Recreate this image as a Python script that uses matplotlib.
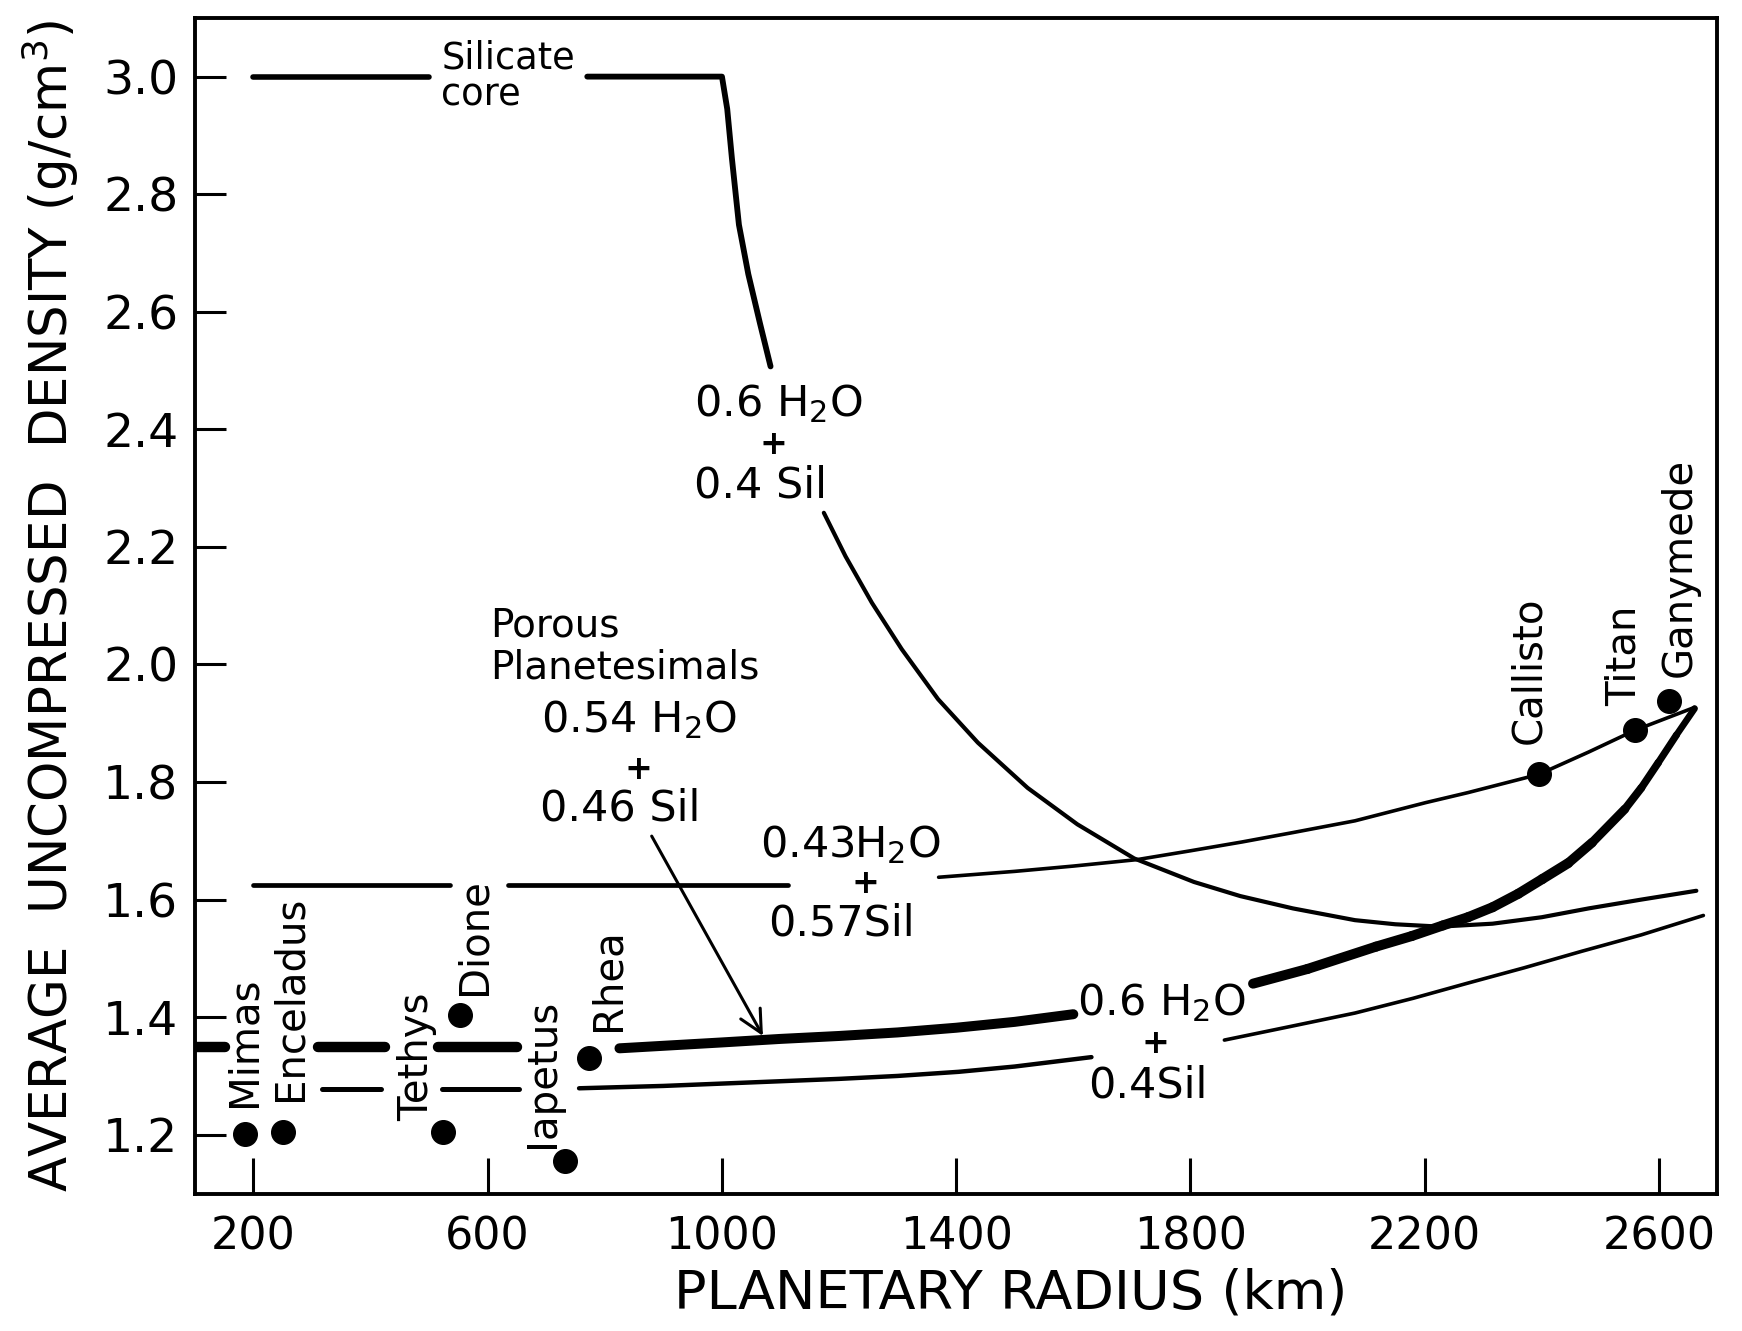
import numpy as np
import matplotlib.pyplot as plt

# silicate core curve (differentiated 0.6 H2O + 0.4 Sil)
core_flat_x = [200, 500]
core_flat_y = [3.0, 3.0]
core_top_x = [770, 1000, 1009, 1017, 1029, 1045, 1065, 1083]
core_top_y = [3.0, 3.0, 2.945, 2.861, 2.748, 2.664, 2.580, 2.507]
core_low_x = [1174, 1211, 1256, 1307, 1369, 1437, 1522, 1607, 1704, 1806, 1885,
              1975, 2081, 2150, 2226, 2316, 2400, 2480, 2570, 2664]
core_low_y = [2.258, 2.184, 2.105, 2.026, 1.941, 1.867, 1.790, 1.728, 1.670, 1.630, 1.606,
              1.585, 1.565, 1.558, 1.554, 1.559, 1.570, 1.585, 1.600, 1.615]

# 0.43 H2O + 0.57 Sil
mix_dash_start = [200, 634]
mix_dash_end = [535, 1112]
mix_dash_y = 1.625
mix_x = [1370, 1500, 1600, 1709, 1800, 1888, 1975, 2081, 2202, 2274, 2395, 2480, 2559, 2661]
mix_y = [1.638, 1.648, 1.657, 1.668, 1.683, 1.698, 1.714, 1.734, 1.765, 1.782, 1.813, 1.851, 1.888, 1.927]

# porous planetesimals 0.54 H2O + 0.46 Sil (thick)
por_dash_start = [100, 310, 515]
por_dash_end = [152, 425, 650]
por_dash_y = 1.350
por_x1 = [825, 1000, 1100, 1200, 1300, 1400, 1500, 1600]
por_y1 = [1.347, 1.357, 1.363, 1.368, 1.374, 1.382, 1.392, 1.405]
por_x2 = [1907, 2000, 2117, 2178, 2231, 2274, 2316, 2360, 2401, 2445, 2486, 2542,
          2570, 2599, 2630, 2661]
por_y2 = [1.457, 1.482, 1.520, 1.538, 1.556, 1.570, 1.587, 1.610, 1.635, 1.662, 1.697, 1.754,
          1.790, 1.833, 1.880, 1.925]

# undifferentiated 0.6 H2O + 0.4 Sil (thin lower)
und_dash_start = [317, 522]
und_dash_end = [418, 653]
und_dash_y = 1.277
und_x1 = [756, 900, 1050, 1200, 1300, 1404, 1500, 1631]
und_y1 = [1.279, 1.283, 1.289, 1.295, 1.300, 1.307, 1.316, 1.332]
und_x2 = [1858, 1970, 2081, 2180, 2274, 2370, 2468, 2570, 2676]
und_y2 = [1.361, 1.384, 1.407, 1.432, 1.458, 1.484, 1.512, 1.540, 1.573]

# satellites
moons = ['Mimas', 'Enceladus', 'Tethys', 'Dione', 'Iapetus', 'Rhea',
         'Callisto', 'Titan', 'Ganymede']
moon_r = [185, 251, 524, 552, 732, 773, 2395, 2559, 2617]
moon_rho = [1.201, 1.205, 1.205, 1.404, 1.156, 1.330, 1.813, 1.888, 1.937]
label_x = [185, 264, 480, 577, 695, 806, 2378, 2542, 2635]
label_y = [1.247, 1.257, 1.224, 1.437, 1.178, 1.377, 1.864, 1.930, 1.978]

fig = plt.figure(figsize=(17.42, 13.31), dpi=100)
ax = fig.add_axes([0.1119, 0.1033, 0.874, 0.8833])

kw = dict(color='black', solid_capstyle='round', solid_joinstyle='round')

# silicate core curve
ax.plot(core_flat_x, core_flat_y, lw=4.0, **kw)
ax.plot(core_top_x, core_top_y, lw=4.2, **kw)
ax.plot(core_low_x, core_low_y, lw=3.0, **kw)

# 0.43 line
for a, b in zip(mix_dash_start, mix_dash_end):
    ax.plot([a, b], [mix_dash_y, mix_dash_y], lw=3.4, **kw)
ax.plot(mix_x, mix_y, lw=2.6, **kw)

# porous line (thins out toward its upper end)
for a, b in zip(por_dash_start, por_dash_end):
    ax.plot([a, b], [por_dash_y, por_dash_y], lw=7.5, **kw)
ax.plot(por_x1, por_y1, lw=7.2, **kw)
n = len(por_x2)
for i in range(n - 1):
    w = 7.2 if por_x2[i] < 2420 else 7.2 - 2.8 * (por_x2[i] - 2420) / (por_x2[-1] - 2420)
    ax.plot(por_x2[i:i + 2], por_y2[i:i + 2], lw=w, **kw)

# undifferentiated line
for a, b in zip(und_dash_start, und_dash_end):
    ax.plot([a, b], [und_dash_y, und_dash_y], lw=3.6, **kw)
ax.plot(und_x1, und_y1, lw=3.2, **kw)
ax.plot(und_x2, und_y2, lw=2.6, **kw)

# satellites
ax.plot(moon_r, moon_rho, 'o', color='black', ms=17)
for name, lx, ly in zip(moons, label_x, label_y):
    ax.text(lx, ly, name, rotation=90, ha='center', va='bottom', fontsize=29)

# curve labels
plus = dict(ha='center', va='center', fontsize=24, fontweight='bold')
ax.text(521, 3.0, 'Silicate\ncore', ha='left', va='center', fontsize=26.5,
        linespacing=1.0)
ax.text(952, 2.444, '0.6 H$_2$O', ha='left', va='center', fontsize=31)
ax.text(1088, 2.375, '+', **plus)
ax.text(952, 2.305, '0.4 Sil', ha='left', va='center', fontsize=31)

ax.text(604, 2.067, 'Porous', ha='left', va='center', fontsize=28)
ax.text(604, 1.995, 'Planetesimals', ha='left', va='center', fontsize=28)
ax.text(691, 1.906, '0.54 H$_2$O', ha='left', va='center', fontsize=31)
ax.text(857, 1.821, '+', **plus)
ax.text(689, 1.755, '0.46 Sil', ha='left', va='center', fontsize=31)
ax.annotate('', xy=(1070, 1.368), xytext=(880, 1.708),
            arrowprops=dict(arrowstyle='->', lw=2.2, color='black',
                            mutation_scale=40, shrinkA=0, shrinkB=0))

ax.text(1065, 1.694, '0.43H$_2$O', ha='left', va='center', fontsize=31)
ax.text(1245, 1.628, '+', **plus)
ax.text(1078, 1.559, '0.57Sil', ha='left', va='center', fontsize=31)

ax.text(1607, 1.425, '0.6 H$_2$O', ha='left', va='center', fontsize=31)
ax.text(1740, 1.355, '+', **plus)
ax.text(1626, 1.283, '0.4Sil', ha='left', va='center', fontsize=31)

# axes
ax.set_xlim(100, 2700)
ax.set_ylim(1.1, 3.1)
ax.set_xticks([200, 600, 1000, 1400, 1800, 2200, 2600])
ax.set_yticks([1.2, 1.4, 1.6, 1.8, 2.0, 2.2, 2.4, 2.6, 2.8, 3.0])
ax.set_yticklabels(['1.2', '1.4', '1.6', '1.8', '2.0', '2.2', '2.4', '2.6', '2.8', '3.0'])
ax.tick_params(axis='x', direction='in', length=26, width=2.2, labelsize=32, pad=16)
ax.tick_params(axis='y', direction='in', length=22, width=2.2, labelsize=34, pad=12)
for s in ax.spines.values():
    s.set_linewidth(2.8)

fig.text(0.580, 0.028, 'PLANETARY RADIUS (km)', ha='center', va='center', fontsize=39)
fig.text(0.0285, 0.545, 'AVERAGE  UNCOMPRESSED  DENSITY (g/cm$^3$)', rotation=90,
         ha='center', va='center', fontsize=37)

fig.savefig('out.png', dpi=100)
